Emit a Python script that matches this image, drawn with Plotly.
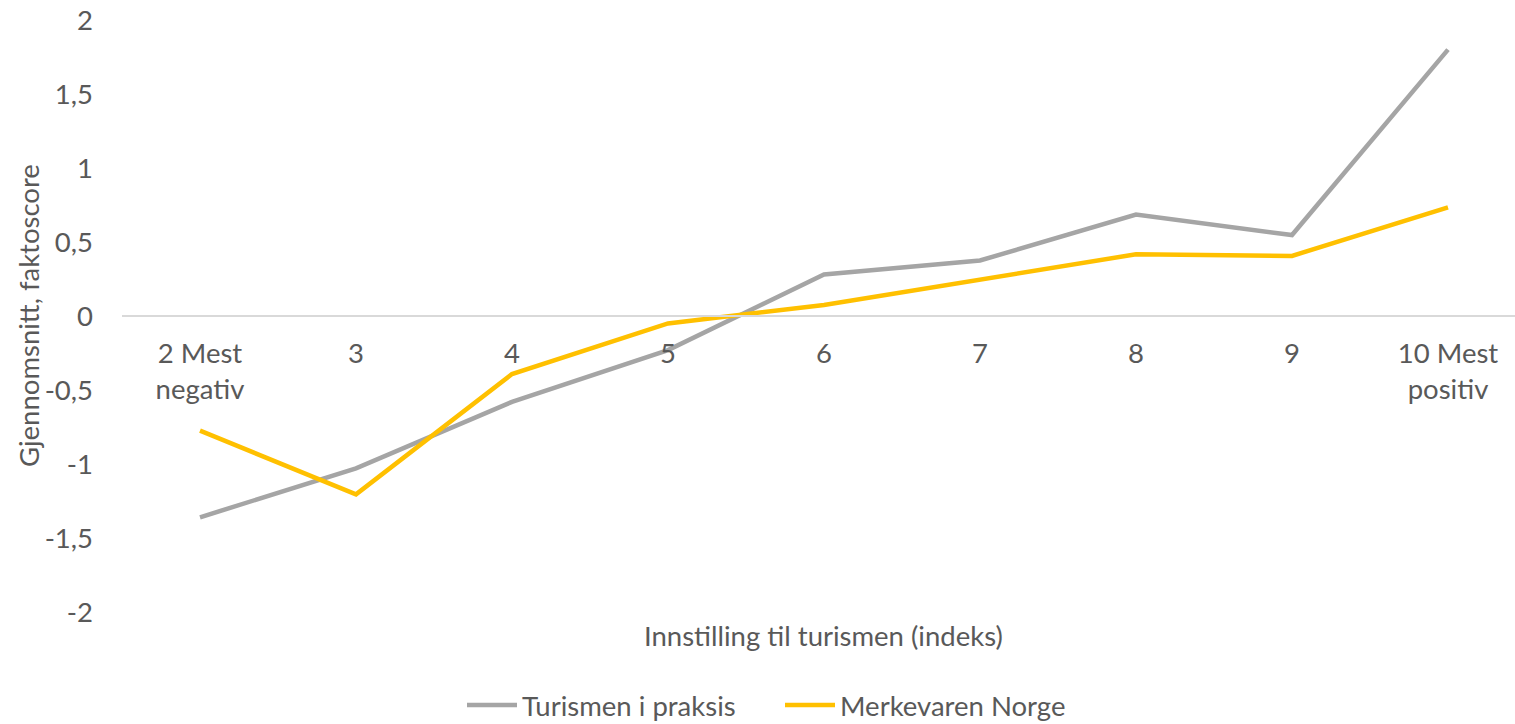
import plotly.graph_objects as go

categories = ["2 Mest<br>negativ", "3", "4", "5", "6", "7", "8", "9", "10 Mest<br>positiv"]
turismen_i_praksis = [-1.36, -1.03, -0.58, -0.23, 0.28, 0.375, 0.685, 0.547, 1.80]
merkevaren_norge = [-0.775, -1.205, -0.392, -0.05, 0.074, 0.245, 0.417, 0.406, 0.734]
y_tick_vals = [-2, -1.5, -1, -0.5, 0, 0.5, 1, 1.5, 2]
y_tick_text = ["-2", "-1,5", "-1", "-0,5", "0", "0,5", "1", "1,5", "2"]

FONT = "Lato"
TXT = "#595959"
FS = 27.5

fig = go.Figure()
fig.add_trace(go.Scatter(x=categories, y=turismen_i_praksis, mode="lines",
                         name="Turismen i praksis",
                         line=dict(color="#A5A5A5", width=4.5)))
fig.add_trace(go.Scatter(x=categories, y=merkevaren_norge, mode="lines",
                         name="Merkevaren Norge",
                         line=dict(color="#FFC000", width=4.5)))

W, H = 1515, 724
L, R, T, B = 122, 0, 20, 112
plot_w = W - L - R
plot_h = H - T - B
step = 156.0
fig.update_layout(
    width=W, height=H,
    margin=dict(l=L, r=R, t=T, b=B, autoexpand=False),
    paper_bgcolor="white", plot_bgcolor="white",
    font=dict(family=FONT, size=FS, color=TXT),
    showlegend=True,
    legend=dict(orientation="h", xref="container", yref="container",
                x=(468 - 6) / W, xanchor="left",
                y=(724 - 705) / H, yanchor="middle",
                font=dict(family=FONT, size=FS, color=TXT),
                itemwidth=50, tracegroupgap=0,
                entrywidth=253, entrywidthmode="pixels"),
    xaxis=dict(type="category", range=[-0.5, -0.5 + plot_w / step],
               anchor="free", position=0.5,
               showline=True, linecolor="#D9D9D9", linewidth=1.5,
               showgrid=False, zeroline=False, ticks="",
               ticklabelstandoff=13, ticklabeloverflow="allow",
               tickfont=dict(family=FONT, size=FS, color=TXT)),
    yaxis=dict(range=[-2, 2], tickvals=y_tick_vals, ticktext=y_tick_text,
               showgrid=False, zeroline=False, showline=False, ticks="",
               ticklabelstandoff=28, ticklabeloverflow="allow",
               tickfont=dict(family=FONT, size=FS, color=TXT)),
    annotations=[
        dict(text="Gjennomsnitt, faktoscore", xref="paper", yref="paper",
             x=(28 - L) / plot_w, y=0.5, xanchor="center", yanchor="middle",
             textangle=-90, showarrow=False,
             font=dict(family=FONT, size=FS, color=TXT)),
        dict(text="Innstilling til turismen (indeks)", xref="paper", yref="paper",
             x=(823 - L) / plot_w, y=(612 - 635) / plot_h,
             xanchor="center", yanchor="middle", showarrow=False,
             font=dict(family=FONT, size=FS, color=TXT)),
    ],
)

fig.write_html("out.html",
               config={"displayModeBar": False},
               post_script="document.body.style.margin='0';document.body.style.overflow='hidden';")
